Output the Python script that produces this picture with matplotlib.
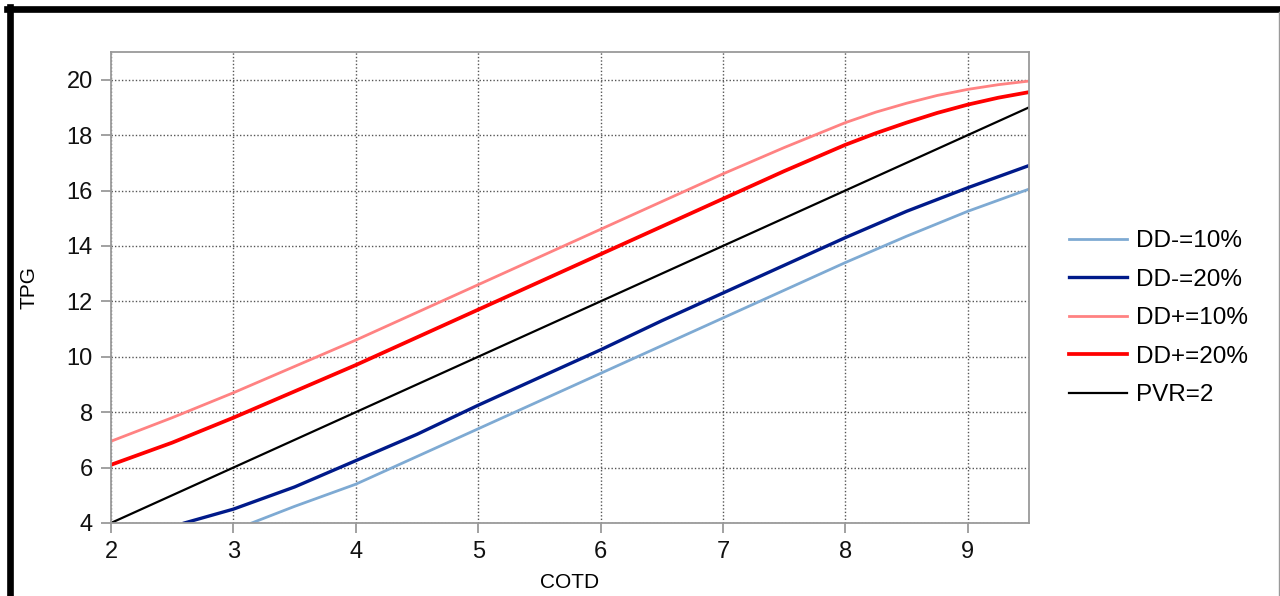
import matplotlib
matplotlib.use("Agg")
import matplotlib.pyplot as plt
from matplotlib.lines import Line2D

plt.rcParams['font.family'] = ['Liberation Sans', 'DejaVu Sans']

# data
x_full = [2, 2.5, 3, 3.5, 4, 4.5, 5, 5.5, 6, 6.5, 7, 7.5, 8, 8.25, 8.5, 8.75, 9, 9.25, 9.5]
dd_plus_10 = [6.95, 7.8, 8.7, 9.65, 10.6, 11.6, 12.6, 13.6, 14.6, 15.6, 16.6, 17.55, 18.45,
              18.83, 19.15, 19.43, 19.65, 19.82, 19.95]
dd_plus_20 = [6.1, 6.9, 7.8, 8.75, 9.7, 10.7, 11.7, 12.7, 13.7, 14.7, 15.7, 16.7, 17.65,
              18.07, 18.45, 18.8, 19.1, 19.35, 19.55]
x_minus_20 = [2.6, 3, 3.5, 4, 4.5, 5, 5.5, 6, 6.5, 7, 7.5, 8, 8.5, 9, 9.5]
dd_minus_20 = [4.0, 4.5, 5.3, 6.25, 7.2, 8.25, 9.25, 10.25, 11.3, 12.3, 13.3, 14.3, 15.25, 16.1, 16.9]
x_minus_10 = [3.15, 3.5, 4, 4.5, 5, 5.5, 6, 6.5, 7, 7.5, 8, 8.5, 9, 9.5]
dd_minus_10 = [4.0, 4.6, 5.4, 6.4, 7.4, 8.4, 9.4, 10.4, 11.4, 12.4, 13.4, 14.35, 15.25, 16.05]
x_pvr = [2, 9.5]
pvr_2 = [4, 19]

x_ticks = [2, 3, 4, 5, 6, 7, 8, 9]
y_ticks = [4, 6, 8, 10, 12, 14, 16, 18, 20]

fig = plt.figure(figsize=(12.8, 5.96), dpi=100)
ax = fig.add_axes([0.0867, 0.1225, 0.7172, 0.7903])

ax.plot(x_minus_10, dd_minus_10, color='#7eaad3', lw=2.0, label='DD-=10%')
ax.plot(x_minus_20, dd_minus_20, color='#001a8a', lw=2.4, label='DD-=20%')
ax.plot(x_full, dd_plus_10, color='#ff8282', lw=2.0, label='DD+=10%')
ax.plot(x_full, dd_plus_20, color='#ff0000', lw=2.7, label='DD+=20%')
ax.plot(x_pvr, pvr_2, color='#000000', lw=1.6, label='PVR=2')

ax.set_xlim(2, 9.5)
ax.set_ylim(4, 21)
ax.set_xticks(x_ticks)
ax.set_yticks(y_ticks)
ax.grid(True, color='#555555', linestyle=(0, (1, 1.5)), lw=1.0)
ax.set_axisbelow(True)
for s in ax.spines.values():
    s.set_color('#9a9a9a')
    s.set_linewidth(1.3)
ax.tick_params(direction='out', length=7, width=1.3, color='#9a9a9a',
               labelsize=17, labelcolor='#111111', pad=6)

ax.set_xlabel('COTD', fontsize=15, labelpad=7)
ax.set_ylabel('TPG', fontsize=15, labelpad=20)

fig.legend(loc='center left', bbox_to_anchor=(0.818, 0.466), frameon=False,
           fontsize=17.5, handlelength=2.4, labelspacing=0.68, handletextpad=0.35)

# black frame around the picture
fig.add_artist(Line2D([7 / 1280, 1], [1 - 9 / 596, 1 - 9 / 596], color='black', lw=4.8,
                      transform=fig.transFigure))
fig.add_artist(Line2D([9.5 / 1280, 9.5 / 1280], [0, 1 - 7 / 596], color='black', lw=4.8,
                      transform=fig.transFigure))
fig.add_artist(Line2D([1279 / 1280, 1279 / 1280], [0, 1 - 12 / 596], color='#9a9a9a', lw=1.0,
                      transform=fig.transFigure))

fig.savefig('out.png', dpi=100)
